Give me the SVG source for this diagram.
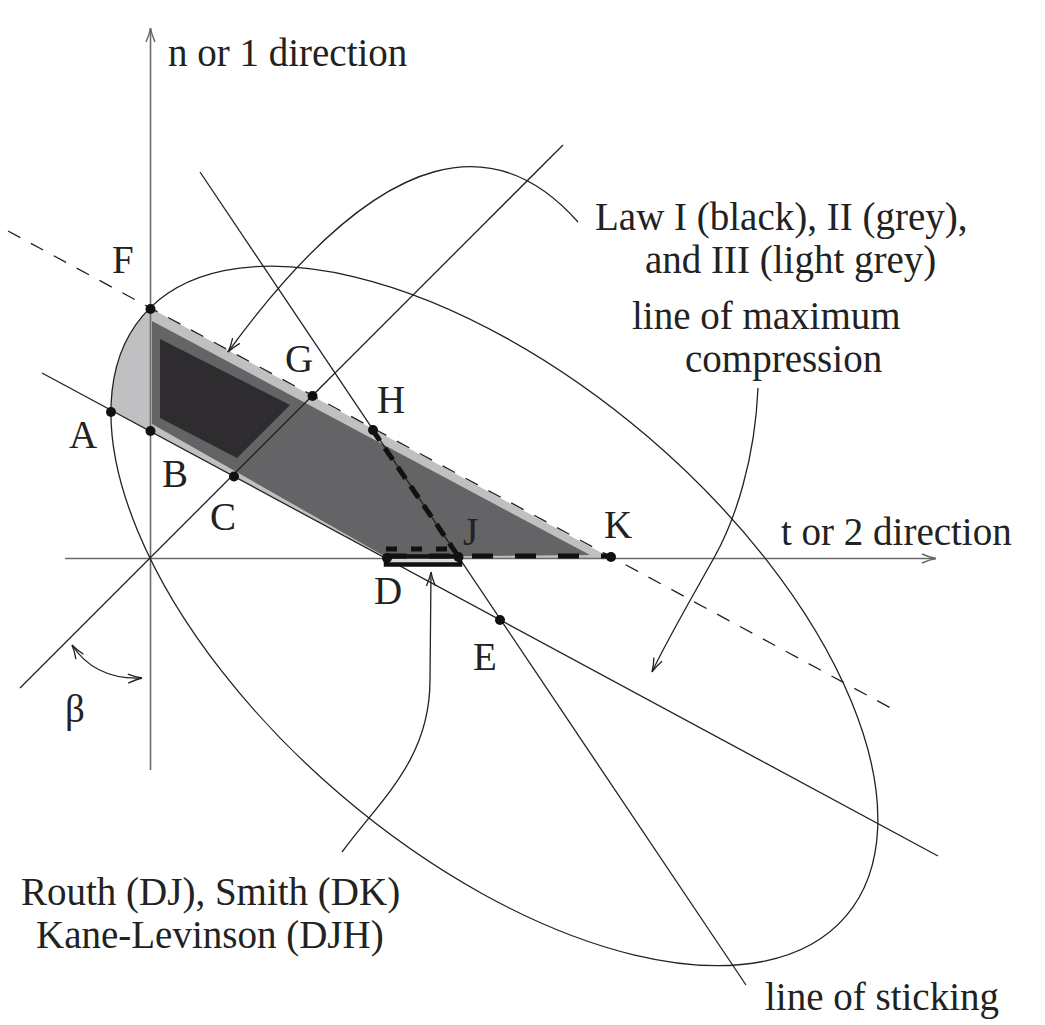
<svg xmlns="http://www.w3.org/2000/svg" width="1045" height="1025" viewBox="0 0 1045 1025">
<defs>
<marker id="ah" viewBox="-15 -6 16 12" refX="0" refY="0" markerWidth="16" markerHeight="12" markerUnits="userSpaceOnUse" orient="auto-start-reverse">
<path d="M-14,-4.5 Q-6,-1 0,0 Q-6,1 -14,4.5" fill="none" stroke="#222" stroke-width="1.3"/>
</marker>
<marker id="axh" viewBox="-15 -6 16 12" refX="0" refY="0" markerWidth="16" markerHeight="12" markerUnits="userSpaceOnUse" orient="auto">
<path d="M-14,-4.5 Q-6,-1 0,0 Q-6,1 -14,4.5" fill="none" stroke="#666" stroke-width="1.4"/>
</marker>
</defs>
<style>
.t{font-family:"Liberation Serif","Times New Roman",serif;font-size:39px;fill:#222}
.ln{fill:none;stroke:#222;stroke-width:1.3}
.ax{fill:none;stroke:#6a6a6a;stroke-width:1.6}
.dot{fill:#111}
.thick{fill:none;stroke:#111;stroke-width:5}
</style>
<rect width="1045" height="1025" fill="#fff"/>
<g id="regions">
<path id="law3" d="M150,308 A462.3,235.9 40.5 0 0 111,410 L386,558 L611,558 Z" fill="#c0c0c2"/>
<path id="law2" d="M152,321 L590,555 L386,557 L152,424 Z" fill="#646466"/>
<path id="law1" d="M160,339 L290,405 L237,458 L160,418 Z" fill="#2e2c2e"/>
</g>
<g id="connectors">
<line class="ax" x1="150.5" y1="770" x2="150.5" y2="28" marker-end="url(#axh)"/>
<line class="ax" x1="65" y1="558.5" x2="936" y2="558.5" marker-end="url(#axh)"/>
<ellipse class="ln" cx="494.4" cy="615.9" rx="462.3" ry="235.9" transform="rotate(40.5 494.4 615.9)"/>
<line class="ln" x1="8" y1="231" x2="900" y2="713" stroke-dasharray="14 12"/>
<line class="ln" x1="42" y1="373" x2="938" y2="856"/>
<line class="ln" x1="20" y1="688" x2="563" y2="145"/>
<line class="ln" x1="200" y1="172" x2="746" y2="985"/>
<path class="ln" d="M578,222 C502,136 390,130 228,352" marker-end="url(#ah)"/>
<path class="ln" d="M758,388 C755,460 735,520 715,556 C695,592 667,640 652,672" marker-end="url(#ah)"/>
<path class="ln" d="M342,852 C380,800 430,760 430,680 L431,572" marker-end="url(#ah)"/>
<path class="ln" d="M72,645 Q95,680 142,678" marker-start="url(#ah)" marker-end="url(#ah)"/>
<rect x="386" y="556.5" width="74" height="8" fill="#d8d8d8" stroke="#111" stroke-width="4.5"/>
<line class="thick" x1="386" y1="556" x2="611" y2="556" stroke-dasharray="21 22"/>
<line class="thick" x1="386" y1="549" x2="458" y2="549" stroke-width="6" stroke-dasharray="11 14"/>
<line class="thick" x1="372" y1="429" x2="458" y2="556" stroke-dasharray="14 9"/>
</g>
<g id="labels">
<text class="t" x="168" y="66">n or 1 direction</text>
<text class="t" x="781" y="545">t or 2 direction</text>
<text class="t" x="595" y="230">Law I (black), II (grey),</text>
<text class="t" x="645" y="273">and III (light grey)</text>
<text class="t" x="632" y="329">line of maximum</text>
<text class="t" x="685" y="372">compression</text>
<text class="t" x="21" y="905">Routh (DJ), Smith (DK)</text>
<text class="t" x="36" y="948">Kane-Levinson (DJH)</text>
<text class="t" x="765" y="1010">line of sticking</text>
<text class="t" x="65" y="722">β</text>
</g>
<g id="node-F"><circle class="dot" cx="150.5" cy="309" r="5"/><text class="t" x="112" y="273">F</text></g>
<g id="node-A"><circle class="dot" cx="111" cy="412" r="5"/><text class="t" x="69" y="448">A</text></g>
<g id="node-B"><circle class="dot" cx="150.5" cy="431" r="5"/><text class="t" x="162" y="487">B</text></g>
<g id="node-C"><circle class="dot" cx="234" cy="476.5" r="5"/><text class="t" x="210" y="530">C</text></g>
<g id="node-G"><circle class="dot" cx="312.5" cy="396" r="5"/><text class="t" x="285" y="372">G</text></g>
<g id="node-H"><circle class="dot" cx="373" cy="430" r="5"/><text class="t" x="377" y="413">H</text></g>
<g id="node-D"><circle class="dot" cx="387" cy="558" r="5"/><text class="t" x="374" y="604">D</text></g>
<g id="node-J"><circle class="dot" cx="458.5" cy="557" r="5"/><text class="t" x="463" y="545">J</text></g>
<g id="node-K"><circle class="dot" cx="611" cy="557" r="5"/><text class="t" x="604" y="538">K</text></g>
<g id="node-E"><circle class="dot" cx="500" cy="620" r="5"/><text class="t" x="473" y="670">E</text></g>
</svg>
